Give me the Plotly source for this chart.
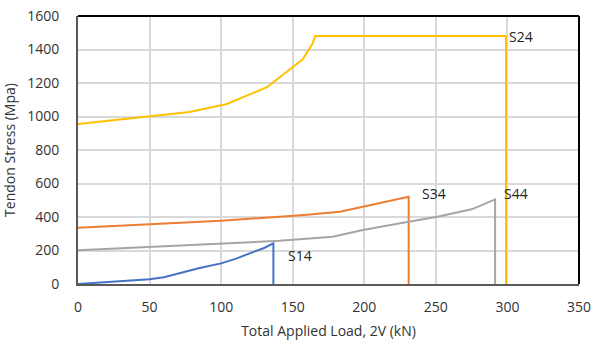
import plotly.graph_objects as go

# Data
s14_x = [0, 20, 50, 60, 70, 85, 100, 110, 120, 130, 136.5, 136.5]
s14_y = [0, 10, 28, 40, 62, 95, 123, 150, 183, 215, 243, 0]

s24_x = [0, 50, 78, 104, 132, 157, 164, 165.6, 299, 299]
s24_y = [955, 1000, 1027, 1075, 1175, 1341, 1437, 1480, 1480, 0]

s34_x = [0, 50, 100, 141, 160, 183, 209, 231, 231]
s34_y = [336, 355, 378, 402, 413, 432, 482, 521, 0]

s44_x = [0, 50, 100, 141, 178, 199, 230, 251, 275, 291.4, 291.4]
s44_y = [201, 220, 239, 258, 282, 322, 370, 402, 446, 505, 0]

series = [
    ("S14", s14_x, s14_y, "#4472C4", 145, 173),
    ("S24", s24_x, s24_y, "#FFC000", 300, 1480),
    ("S34", s34_x, s34_y, "#ED7D31", 239, 543),
    ("S44", s44_x, s44_y, "#A5A5A5", 296, 543),
]

font_family = "Open Sans, Noto Sans, sans-serif"

fig = go.Figure()
for name, xs, ys, color, lx, ly in series:
    fig.add_trace(go.Scatter(x=xs, y=ys, mode="lines", name=name,
                             line=dict(color=color, width=2), showlegend=False,
                             cliponaxis=False))
for name, xs, ys, color, lx, ly in series:
    fig.add_annotation(x=lx, y=ly, text=name, showarrow=False, xanchor="left",
                       yanchor="middle", font=dict(size=14, color="#222222", family=font_family))

fig.update_layout(
    width=593, height=343,
    margin=dict(l=78, r=14, t=16, b=59, autoexpand=False),
    paper_bgcolor="white", plot_bgcolor="white",
    font=dict(family=font_family, size=14, color="#333333"),
    xaxis=dict(range=[0, 350], tickvals=[0, 50, 100, 150, 200, 250, 300, 350],
               showgrid=True, gridcolor="#D9D9D9", gridwidth=1.5,
               showline=True, linecolor="#595959", linewidth=2, zeroline=False,
               ticks="", ticklabelstandoff=9, automargin=False,
               title=dict(text="Total Applied Load, 2V (kN)", standoff=11, font=dict(size=14))),
    yaxis=dict(range=[0, 1600], tickvals=[0, 200, 400, 600, 800, 1000, 1200, 1400, 1600],
               showgrid=True, gridcolor="#D9D9D9", gridwidth=1.5,
               showline=True, linecolor="#595959", linewidth=2, zeroline=False,
               ticks="", ticklabelstandoff=14, automargin=False,
               title=dict(text="Tendon Stress (Mpa)", standoff=10, font=dict(size=14))),
)
fig.add_shape(type="line", xref="x domain", yref="y domain", x0=0, x1=1, y0=1, y1=1,
              line=dict(color="#000000", width=2))
fig.add_shape(type="line", xref="x domain", yref="y domain", x0=1, x1=1, y0=0, y1=1,
              line=dict(color="#000000", width=2))

fig.write_html("out.html", config={"displayModeBar": False},
               post_script="document.body.style.margin='0';")
